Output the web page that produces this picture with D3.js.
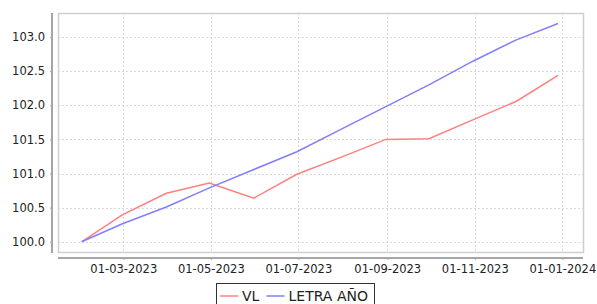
<!DOCTYPE html>
<html>
<head>
<meta charset="utf-8">
<script src="https://cdn.jsdelivr.net/npm/d3@7"></script>
<style>
  body { margin: 0; background: #fff; }
  svg { display: block; font-family: "DejaVu Sans", sans-serif; }
</style>
</head>
<body>
<div id="chart"></div>
<script>
const width = 597
const height = 304

// month-end valuation dates
const dates = ["2023-01-31", "2023-02-28", "2023-03-31", "2023-04-30", "2023-05-31", "2023-06-30",
  "2023-07-31", "2023-08-31", "2023-09-30", "2023-10-31", "2023-11-30", "2023-12-29"]
const vl = [100.0, 100.39, 100.71, 100.86, 100.64, 100.99, 101.24, 101.50, 101.51, 101.79, 102.06, 102.44]
const letra = [100.0, 100.26, 100.51, 100.79, 101.06, 101.32, 101.65, 101.98, 102.30, 102.65, 102.96, 103.20]
const seriesNames = ["VL", "LETRA AÑO"]
const seriesColors = ["#ff7f7f", "#7f7fff"]
const xTicks = ["2023-03-01", "2023-05-01", "2023-07-01", "2023-09-01", "2023-11-01", "2024-01-01"]
const yTicks = [100.0, 100.5, 101.0, 101.5, 102.0, 102.5, 103.0]

const parse = d3.utcParse("%Y-%m-%d")
const fmtDate = d3.utcFormat("%d-%m-%Y")

const plot = { left: 58, right: 583, top: 13, bottom: 252 }

const x = d3.scaleUtc()
    .domain([new Date(Date.UTC(2023, 0, 14, 12)), new Date(Date.UTC(2024, 0, 15, 10))])
    .range([plot.left, plot.right])
const y = d3.scaleLinear()
    .domain([99.85, 103.353])
    .range([plot.bottom, plot.top])

const svg = d3.select("#chart").append("svg")
    .attr("width", width)
    .attr("height", height)

// grid
const grid = svg.append("g")
    .attr("stroke", "#d9d9d9")
    .attr("stroke-dasharray", "2,2")
    .attr("stroke-width", 1)
grid.selectAll("line.h").data(yTicks).join("line")
    .attr("x1", plot.left).attr("x2", plot.right)
    .attr("y1", d => Math.round(y(d)) + 0.5).attr("y2", d => Math.round(y(d)) + 0.5)
grid.selectAll("line.v").data(xTicks).join("line")
    .attr("y1", plot.top).attr("y2", plot.bottom)
    .attr("x1", d => Math.round(x(parse(d))) + 0.5).attr("x2", d => Math.round(x(parse(d))) + 0.5)

// plot outline
svg.append("rect")
    .attr("x", plot.left + 0.5).attr("y", plot.top + 0.5)
    .attr("width", plot.right - plot.left).attr("height", plot.bottom - plot.top)
    .attr("fill", "none").attr("stroke", "#cfcfcf").attr("stroke-width", 1.5)

// y axis
const yAxis = d3.axisLeft(y).tickValues(yTicks).tickFormat(d3.format(".1f")).tickSizeInner(2).tickSizeOuter(0).tickPadding(5)
const gy = svg.append("g").attr("transform", "translate(52,0)").call(yAxis)
gy.select(".domain").attr("d", `M0,${plot.top}V${plot.bottom + 1}`).attr("stroke", "#a6a6a6").attr("stroke-width", 2)
gy.selectAll(".tick line").attr("stroke", "#a6a6a6")
gy.selectAll("text").attr("font-size", 11.5).attr("fill", "#222").attr("font-family", "DejaVu Sans")

// x axis
const xAxis = d3.axisBottom(x).tickValues(xTicks.map(parse)).tickFormat(fmtDate).tickSizeInner(2).tickSizeOuter(0).tickPadding(5)
const gx = svg.append("g").attr("transform", "translate(0,258)").call(xAxis)
gx.select(".domain").attr("d", `M${plot.left},0H${plot.right}`).attr("stroke", "#a6a6a6").attr("stroke-width", 2)
gx.selectAll(".tick line").attr("stroke", "#a6a6a6")
gx.selectAll("text").attr("font-size", 11.5).attr("fill", "#222").attr("font-family", "DejaVu Sans")

// series
const line = d3.line().x(d => x(d.date)).y(d => y(d.value))
const series = [vl, letra].map((vals, i) => ({
  name: seriesNames[i],
  color: seriesColors[i],
  points: vals.map((v, j) => ({ date: parse(dates[j]), value: v }))
}))
svg.append("g").selectAll("path").data(series).join("path")
    .attr("fill", "none")
    .attr("stroke", d => d.color)
    .attr("stroke-width", 1.5)
    .attr("d", d => line(d.points))

// legend
const legend = svg.append("g")
legend.append("rect")
    .attr("x", 216.5).attr("y", 283.5).attr("width", 158).attr("height", 30)
    .attr("fill", "#fff").attr("stroke", "#333").attr("stroke-width", 1)
const itemX = [220, 266.5]
const item = legend.selectAll("g").data(series).join("g")
    .attr("transform", (d, i) => `translate(${itemX[i]},296)`)
item.append("line").attr("x1", 0).attr("x2", 18).attr("stroke", d => d.color).attr("stroke-width", 1.5)
item.append("text").attr("x", 22).attr("dy", "0.36em")
    .attr("font-size", 14).attr("fill", "#222").text(d => d.name)
</script>
</body>
</html>
